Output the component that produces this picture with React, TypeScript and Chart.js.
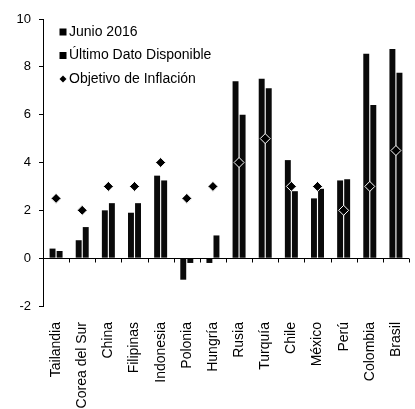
import React, { useEffect, useRef } from "react";
import { Chart, registerables } from "chart.js";

Chart.register(...registerables);

const categories = ["Tailandia", "Corea del Sur", "China", "Filipinas", "Indonesia", "Polonia", "Hungría", "Rusia", "Turquía", "Chile", "México", "Perú", "Colombia", "Brasil"];
const junio2016 = [0.4, 0.75, 2.0, 1.9, 3.45, -0.9, -0.2, 7.4, 7.5, 4.1, 2.5, 3.25, 8.55, 8.75];
const ultimoDato = [0.3, 1.3, 2.3, 2.3, 3.25, -0.2, 0.95, 6.0, 7.1, 2.8, 2.9, 3.3, 6.4, 7.75];
const objetivo = [2.5, 2.0, 3.0, 3.0, 4.0, 2.5, 3.0, 4.0, 5.0, 3.0, 3.0, 2.0, 3.0, 4.5];
const seriesLabels = ["Junio 2016", "Último Dato Disponible", "Objetivo de Inflación"];
const yMin = -2;
const yMax = 10;
const yStep = 2;

const FONT = "'Liberation Sans', Arial, sans-serif";

const zeroTicksPlugin = {
  id: "zeroTicks",
  afterDatasetsDraw(chart: any) {
    const x = chart.scales.x;
    const y = chart.scales.y;
    const y0 = Math.round(y.getPixelForValue(0)) + 0.5;
    const n = categories.length;
    const ctx = chart.ctx;
    ctx.save();
    ctx.strokeStyle = "#000";
    ctx.lineWidth = 1;
    ctx.beginPath();
    for (let i = 1; i <= n; i++) {
      const px = Math.round(x.left + (i * x.width) / n) + 0.5;
      ctx.moveTo(px, y0);
      ctx.lineTo(px, y0 + 4);
    }
    ctx.stroke();
    ctx.restore();
  },
};

const legendPlugin = {
  id: "insideLegend",
  afterDraw(chart: any) {
    const ctx = chart.ctx;
    const area = chart.chartArea;
    ctx.save();
    ctx.font = "14px " + FONT;
    ctx.textBaseline = "middle";
    ctx.textAlign = "left";
    chart.data.datasets.forEach((ds: any, i: number) => {
      const cy = area.top + 13 + i * 23.5;
      const cx = area.left + 20;
      ctx.fillStyle = "#000";
      if (i < 2) {
        ctx.fillRect(cx - 3.5, cy - 3.5, 7, 7);
      } else {
        ctx.beginPath();
        ctx.moveTo(cx, cy - 3.5);
        ctx.lineTo(cx + 3.5, cy);
        ctx.lineTo(cx, cy + 3.5);
        ctx.lineTo(cx - 3.5, cy);
        ctx.closePath();
        ctx.fill();
      }
      ctx.fillStyle = "#000";
      ctx.fillText(ds.label, cx + 6, cy);
    });
    ctx.restore();
  },
};

export default function App() {
  const ref = useRef<HTMLCanvasElement>(null);
  useEffect(() => {
    if (!ref.current) return;
    const chart = new Chart(ref.current, {
      type: "bar",
      data: {
        labels: categories,
        datasets: [
          {
            type: "bar",
            label: seriesLabels[0],
            data: junio2016,
            backgroundColor: "#0a0a0a",
            categoryPercentage: 0.54,
            barPercentage: 0.84,
            order: 1,
          },
          {
            type: "bar",
            label: seriesLabels[1],
            data: ultimoDato,
            backgroundColor: "#0a0a0a",
            categoryPercentage: 0.54,
            barPercentage: 0.84,
            order: 1,
          },
          {
            type: "line",
            label: seriesLabels[2],
            data: objetivo,
            showLine: false,
            pointStyle: "rectRot",
            pointRadius: 5,
            backgroundColor: "#000",
            borderColor: "#fff",
            borderWidth: 1,
            order: 0,
          },
        ] as any,
      },
      options: {
        responsive: false,
        animation: false,
        events: [],
        layout: { padding: { top: 19, right: 3, left: 0, bottom: 0 } },
        plugins: {
          legend: { display: false },
          tooltip: { enabled: false },
        },
        scales: {
          x: {
            grid: { display: false },
            border: { display: false },
            ticks: {
              minRotation: 90,
              maxRotation: 90,
              autoSkip: false,
              padding: 8,
              color: "#000",
              font: { family: FONT, size: 14 },
            },
            afterFit(scale: any) {
              scale.height = 103;
              scale.paddingRight = 0;
              scale.paddingLeft = 0;
            },
          },
          y: {
            min: yMin,
            max: yMax,
            ticks: {
              stepSize: yStep,
              padding: 8,
              color: "#000",
              font: { family: FONT, size: 13 },
            },
            grid: {
              color: (c: any) => (c.tick && c.tick.value === 0 ? "#000" : "rgba(0,0,0,0)"),
              tickColor: "#000",
              tickLength: 4,
            },
            border: { color: "#000", width: 1 },
            afterFit(scale: any) {
              scale.width = 43;
            },
          },
        },
      } as any,
      plugins: [zeroTicksPlugin, legendPlugin],
    });
    return () => chart.destroy();
  }, []);
  return (
    <div style={{ position: "fixed", left: 0, top: 0, width: 415, height: 409, background: "#fff" }}>
      <canvas ref={ref} width={415} height={409} style={{ width: 415, height: 409 }} />
    </div>
  );
}
